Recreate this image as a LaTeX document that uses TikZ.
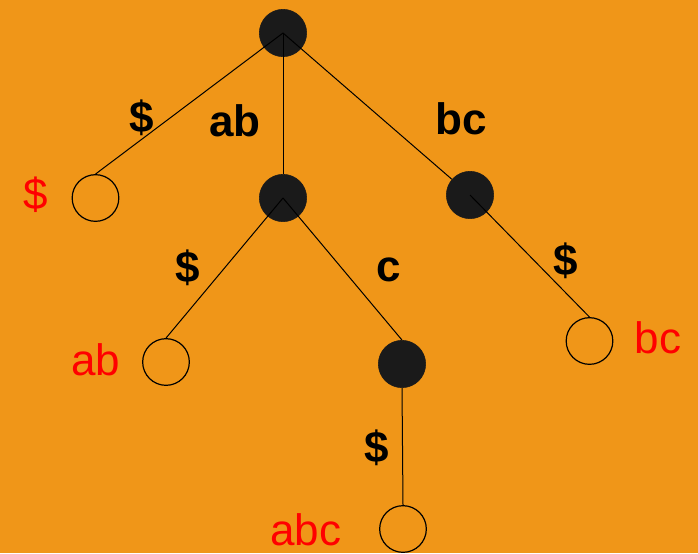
\documentclass[tikz,border=0pt]{standalone}
\usepackage{fontspec}
\setmainfont{Liberation Sans}
\usepackage{xcolor}
\usepackage{tikz}
\definecolor{trieorange}{RGB}{240,150,24}
\definecolor{triedark}{RGB}{26,26,26}
\definecolor{triered}{RGB}{255,0,0}
\tikzset{
  trienode/.style={
    circle,
    fill=triedark,
    draw=triedark,
    minimum size=35.5pt,
    inner sep=0pt
  },
  trieleaf/.style={
    circle,
    draw=black,
    line width=0.9pt,
    minimum size=35pt,
    inner sep=0pt
  },
  edgelabel/.style={
    inner sep=0pt,
    font=\fontsize{33}{40}\selectfont\bfseries
  },
  leaflabel/.style={
    inner sep=0pt,
    text=triered,
    font=\fontsize{33}{40}\selectfont
  },
  trieedge/.style={
    draw=black,
    line width=0.75pt
  }
}

\begin{document}
\begin{tikzpicture}[x=0.75pt, y=-0.75pt]
\fill[trieorange] (0,0) rectangle (698,553);
\useasboundingbox (0,0) rectangle (698,553);

% inner nodes and leaves
\node[trienode] (root) at (283,33) {};
\node[trienode] (ab) at (283,198) {};
\node[trienode] (bc) at (470,195) {};
\node[trienode] (abc) at (402,364) {};
\node[trieleaf] (leafend) at (95.5,198) {};
\node[trieleaf] (leafab) at (166,362) {};
\node[trieleaf] (leafbc) at (589.5,341) {};
\node[trieleaf] (leafabc) at (403,529) {};

% edges
\draw[trieedge] (root.center) -- (leafend.north);
\draw[trieedge] (root.center) -- (ab.north);
\draw[trieedge] (root.center) -- (bc);
\draw[trieedge] (ab.center) -- (leafab.north);
\draw[trieedge] (ab.center) -- (abc.north);
\draw[trieedge] (bc.center) -- (leafbc.north);
\draw[trieedge] (abc.south) -- (leafabc.north);

% edge labels
\node[edgelabel] (lroot) at (142,118) {\$};
\node[edgelabel] (lab) at (235,121) {ab};
\node[edgelabel] (lbc) at (461,119) {bc};
\node[edgelabel] (lableaf) at (188,268) {\$};
\node[edgelabel] (lc) at (389,270) {c};
\node[edgelabel] (lbcleaf) at (566,261) {\$};
\node[edgelabel] (labcleaf) at (377,448) {\$};

% suffixes at the leaves
\node[leaflabel] (send) at (36,195) {\$};
\node[leaflabel] (sab) at (96,360) {ab};
\node[leaflabel] (sbc) at (658,338) {bc};
\node[leaflabel] (sabc) at (306,530) {abc};
\end{tikzpicture}
\end{document}
